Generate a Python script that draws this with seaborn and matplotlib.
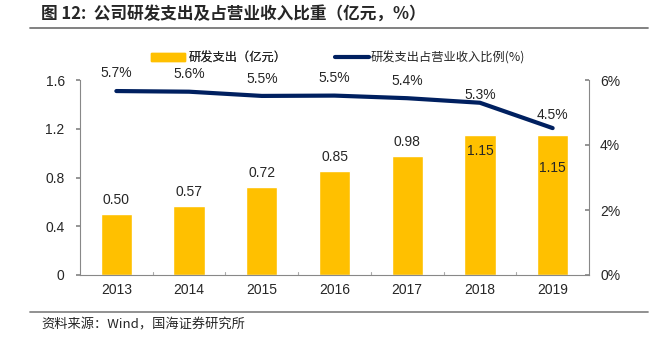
import matplotlib
matplotlib.use("Agg")
import matplotlib.pyplot as plt
import seaborn as sns
import pandas as pd
import numpy as np
from matplotlib.patches import Patch
from matplotlib.lines import Line2D

years = ["2013", "2014", "2015", "2016", "2017", "2018", "2019"]
rd_spend = [0.50, 0.57, 0.72, 0.85, 0.98, 1.15, 1.15]
rd_ratio = [5.66, 5.64, 5.51, 5.52, 5.44, 5.30, 4.52]
left_ticks = [0, 0.4, 0.8, 1.2, 1.6]
left_labels = ["0", "0.4", "0.8", "1.2", "1.6"]
right_ticks = [0, 2, 4, 6]
right_labels = ["0%", "2%", "4%", "6%"]

sns.set_theme(style="white")
plt.rcParams["font.family"] = ["Liberation Sans", "Noto Sans CJK SC"]
cjk = ["Noto Sans CJK SC", "Liberation Sans"]

df = pd.DataFrame({"year": years, "spend": rd_spend, "ratio": rd_ratio})

W, H = 654, 345
fig = plt.figure(figsize=(6.54, 3.45), dpi=100)
ax = fig.add_axes([80/W, 70/H, 509/W, 195/H])
bar_color = "#FFC000"
line_color = "#002060"
fs = 10

sns.barplot(data=df, x="year", y="spend", color=bar_color, width=0.43,
            saturation=1, ax=ax)
ax.set_xlim(-0.5, len(years) - 0.5)
ax.set_ylim(0, 1.6)
ax.set_yticks(left_ticks)
ax.set_yticklabels(left_labels, fontsize=fs)
ax.set_xlabel("")
ax.set_ylabel("")
ax.tick_params(axis="x", labelsize=fs, length=0, pad=6)
ax.tick_params(axis="y", left=True, length=3, color="#888888", pad=8)
for s in ["top", "right"]:
    ax.spines[s].set_visible(False)
for s in ["left", "bottom"]:
    ax.spines[s].set_color("#888888")
    ax.spines[s].set_linewidth(0.8)
for b in np.arange(0.5, len(years) - 0.5, 1):
    ax.plot([b, b], [0, 0.025], color="#aaaaaa", lw=0.8, clip_on=False)

for i, v in enumerate(rd_spend):
    if i == 5:
        y = v - 0.13
    elif i == 6:
        y = v - 0.27
    else:
        y = v + 0.115
    ax.text(i, y, f"{v:.2f}", ha="center", va="center", fontsize=fs)

ax2 = ax.twinx()
sns.lineplot(x=list(range(len(years))), y=rd_ratio, color=line_color, lw=3, ax=ax2)
ax2.set_ylim(0, 6)
ax2.set_yticks(right_ticks)
ax2.set_yticklabels(right_labels, fontsize=fs)
ax2.tick_params(axis="y", right=True, direction="in", length=3, color="#888888", pad=8)
for s in ["top", "left", "bottom"]:
    ax2.spines[s].set_visible(False)
ax2.spines["right"].set_color("#888888")
ax2.spines["right"].set_linewidth(0.8)
offs = [0.55, 0.53, 0.53, 0.53, 0.53, 0.25, 0.40]
for i, v in enumerate(rd_ratio):
    ax2.text(i, v + offs[i], f"{v:.1f}%", ha="center", va="center", fontsize=fs)

legprops = {"family": cjk, "size": 8.8}
leg1 = fig.legend([Patch(facecolor=bar_color, edgecolor=bar_color)], ["研发支出（亿元）"],
                  loc="center left", bbox_to_anchor=(151/W, 1 - 58/H), frameon=False,
                  borderpad=0, borderaxespad=0, handlelength=2.75, handleheight=0.6,
                  handletextpad=0.3, prop=legprops)
leg2 = fig.legend([Line2D([0], [0], color=line_color, lw=3)], ["研发支出占营业收入比例(%)"],
                  loc="center left", bbox_to_anchor=(335/W, 1 - 58/H), frameon=False,
                  borderpad=0, borderaxespad=0, handlelength=2.75,
                  handletextpad=0.2, prop=legprops)
fig.add_artist(leg1)

fig.text(41/W, 1 - 14/H, "图 12:  公司研发支出及占营业收入比重（亿元，%）",
         ha="left", va="center", fontsize=12, fontweight="bold", family=cjk)
fig.add_artist(Line2D([30/W, 648/W], [1 - 28/H, 1 - 28/H], color="#777777", lw=1.3))
fig.add_artist(Line2D([30/W, 648/W], [1 - 312/H, 1 - 312/H], color="#888888", lw=1.3))
fig.text(41/W, 1 - 325/H, "资料来源：Wind，国海证券研究所", ha="left", va="center",
         fontsize=9.5, family=cjk)

fig.savefig("out.png", dpi=100)
